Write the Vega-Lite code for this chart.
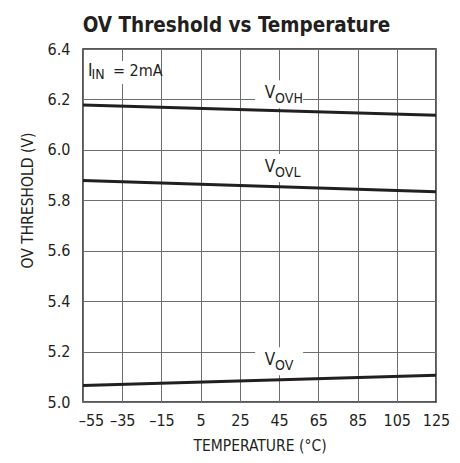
{
  "$schema": "https://vega.github.io/schema/vega-lite/v6.json",
  "width": 353,
  "height": 353,
  "autosize": {"type": "none"},
  "padding": {"left": 83, "top": 49, "right": 24, "bottom": 61},
  "background": "white",
  "config": {
    "font": "DejaVu Sans Condensed, sans-serif",
    "view": {"stroke": "#231f20", "strokeWidth": 1.5},
    "axis": {
      "domain": false,
      "ticks": false,
      "grid": true,
      "gridColor": "#6d6e71",
      "gridWidth": 1,
      "gridOpacity": 1,
      "labelColor": "#231f20",
      "titleColor": "#231f20",
      "labelFontSize": 16,
      "titleFontSize": 15.5,
      "titleFontWeight": "normal",
      "labelFont": "DejaVu Sans Condensed, sans-serif",
      "titleFont": "DejaVu Sans Condensed, sans-serif"
    }
  },
  "title": {
    "text": "OV Threshold vs Temperature",
    "font": "DejaVu Sans Condensed, sans-serif",
    "fontSize": 20.5,
    "fontWeight": "bold",
    "color": "#231f20",
    "anchor": "middle",
    "frame": "group",
    "baseline": "alphabetic",
    "dx": -23,
    "dy": 30,
    "offset": 19
  },
  "datasets": {
    "lines": [
      {"s": "VOVH", "t": -55, "v": 6.178},
      {"s": "VOVH", "t": 125, "v": 6.137},
      {"s": "VOVL", "t": -55, "v": 5.878},
      {"s": "VOVL", "t": 125, "v": 5.834},
      {"s": "VOV", "t": -55, "v": 5.065},
      {"s": "VOV", "t": 125, "v": 5.106}
    ],
    "vlabels": [
      {"main": "V", "sub": "OVH", "t": 45, "v": 6.221},
      {"main": "V", "sub": "OVL", "t": 45, "v": 5.928},
      {"main": "V", "sub": "OV", "t": 45, "v": 5.162}
    ],
    "note": [
      {"main": "I", "sub": "IN", "rest": "= 2mA", "t": -35.4, "v": 6.307}
    ]
  },
  "encoding": {
    "x": {
      "field": "t",
      "type": "quantitative",
      "scale": {"domain": [-55, 125], "nice": false, "zero": false},
      "axis": {
        "values": [-55, -35, -15, 5, 25, 45, 65, 85, 105, 125],
        "labelExpr": "datum.value < 0 ? '–' + (-datum.value) : '' + datum.value",
        "labelOffset": {"condition": {"test": "datum.value == -55", "value": 8}, "value": 0},
        "labelPadding": 10,
        "labelFlush": false,
        "title": "TEMPERATURE (°C)",
        "titlePadding": 10
      }
    },
    "y": {
      "field": "v",
      "type": "quantitative",
      "scale": {"domain": [5.0, 6.4], "nice": false, "zero": false},
      "axis": {
        "values": [5.0, 5.2, 5.4, 5.6, 5.8, 6.0, 6.2, 6.4],
        "format": ".1f",
        "labelPadding": 13,
        "labelFlush": false,
        "title": "OV THRESHOLD (V)",
        "titleAngle": -90,
        "titleAlign": "center",
        "titleBaseline": "middle",
        "titleX": -56,
        "titleY": 151
      }
    }
  },
  "layer": [
    {
      "data": {"name": "vlabels"},
      "mark": {"type": "point", "shape": "M-1,-0.583H1V0.583H-1Z", "filled": true, "fill": "white", "strokeWidth": 0, "opacity": 1, "size": 2304}
    },
    {
      "data": {"name": "note"},
      "mark": {"type": "point", "shape": "M-1,-0.32H1V0.32H-1Z", "filled": true, "fill": "white", "strokeWidth": 0, "opacity": 1, "size": 5184}
    },
    {
      "data": {"name": "lines"},
      "mark": {"type": "line", "color": "#231f20", "strokeWidth": 3},
      "encoding": {"detail": {"field": "s", "type": "nominal"}}
    },
    {
      "data": {"name": "vlabels"},
      "mark": {"type": "text", "align": "right", "baseline": "alphabetic", "dx": -4, "dy": 4, "fontSize": 17, "color": "#231f20"},
      "encoding": {"text": {"field": "main"}}
    },
    {
      "data": {"name": "vlabels"},
      "mark": {"type": "text", "align": "left", "baseline": "alphabetic", "dx": -4, "dy": 9, "fontSize": 14, "color": "#231f20"},
      "encoding": {"text": {"field": "sub"}}
    },
    {
      "data": {"name": "note"},
      "mark": {"type": "text", "align": "left", "baseline": "alphabetic", "dx": -33.5, "dy": 3.6, "fontSize": 17, "color": "#231f20"},
      "encoding": {"text": {"field": "main"}}
    },
    {
      "data": {"name": "note"},
      "mark": {"type": "text", "align": "left", "baseline": "alphabetic", "dx": -30, "dy": 7, "fontSize": 14, "color": "#231f20"},
      "encoding": {"text": {"field": "sub"}}
    },
    {
      "data": {"name": "note"},
      "mark": {"type": "text", "align": "left", "baseline": "alphabetic", "dx": -8.5, "dy": 3.6, "fontSize": 16, "color": "#231f20"},
      "encoding": {"text": {"field": "rest"}}
    }
  ]
}
